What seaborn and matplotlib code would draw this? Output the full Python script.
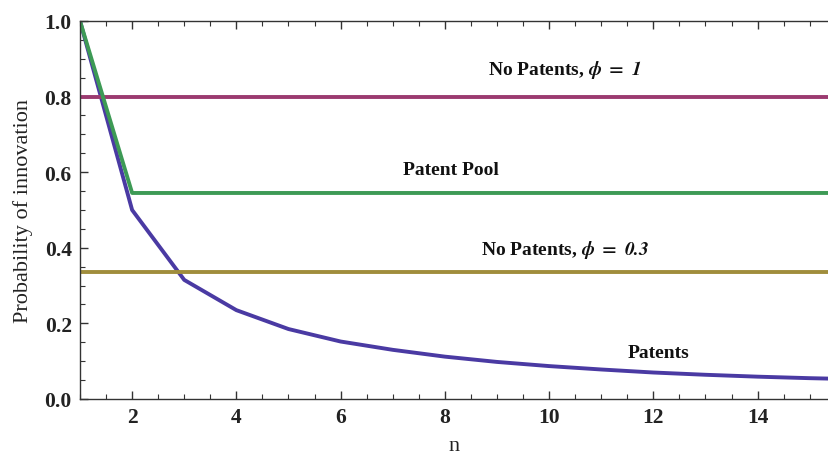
import numpy as np
import pandas as pd
import matplotlib
matplotlib.use("Agg")
import matplotlib.pyplot as plt
from matplotlib.ticker import MultipleLocator
import seaborn as sns

# Number of firms n
n_values = [1, 2, 3, 4, 5, 6, 7, 8, 9, 10, 11, 12, 13, 14, 15, 16]
# Probability of innovation under each regime
patents = [1.0, 0.5, 0.315, 0.235, 0.185, 0.152, 0.130, 0.112, 0.098,
           0.087, 0.078, 0.070, 0.064, 0.059, 0.055, 0.052]
patent_pool = [1.0, 0.545, 0.545, 0.545, 0.545, 0.545, 0.545, 0.545, 0.545,
               0.545, 0.545, 0.545, 0.545, 0.545, 0.545, 0.545]
no_patents_phi1 = [0.8] * 16
no_patents_phi03 = [0.335] * 16

series_names = ["Patents", "No Patents, phi=1", "Patent Pool", "No Patents, phi=0.3"]
series_values = [patents, no_patents_phi1, patent_pool, no_patents_phi03]
colors = ["#4a3aa3", "#9b3a70", "#3d9a55", "#a08d3c"]

df = pd.concat(
    [pd.DataFrame({"n": n_values, "p": v, "series": s}) for s, v in zip(series_names, series_values)],
    ignore_index=True,
)

sns.set_theme(style="white")
plt.rcParams["font.family"] = ["Liberation Serif", "DejaVu Serif"]
plt.rcParams["mathtext.fontset"] = "stix"

fig = plt.figure(figsize=(8.29, 4.64), dpi=100)
ax = fig.add_axes([0.0965, 0.138, 0.9035, 0.8146])

sns.lineplot(data=df, x="n", y="p", hue="series", palette=dict(zip(series_names, colors)),
             hue_order=series_names, linewidth=2.8, legend=False, ax=ax)

ax.set_xlim(1, 15.37)
ax.set_ylim(0, 1.0)
ax.xaxis.set_major_locator(MultipleLocator(2))
ax.xaxis.set_minor_locator(MultipleLocator(0.5))
ax.yaxis.set_major_locator(MultipleLocator(0.2))
ax.yaxis.set_minor_locator(MultipleLocator(0.05))
ax.set_xticks([2, 4, 6, 8, 10, 12, 14])
ax.yaxis.set_major_formatter(matplotlib.ticker.FormatStrFormatter("%.1f"))

for side in ["left", "bottom", "top"]:
    ax.spines[side].set_visible(True)
    ax.spines[side].set_color("#333333")
    ax.spines[side].set_linewidth(1.0)
ax.spines["right"].set_visible(False)

ax.tick_params(which="major", direction="in", length=6, width=1.0, color="#333333",
               top=True, left=True, bottom=True, labelsize=15.5, pad=6)
ax.tick_params(which="minor", direction="in", length=3.5, width=0.8, color="#333333",
               top=True, left=True, bottom=True)
for lbl in ax.get_xticklabels() + ax.get_yticklabels():
    lbl.set_fontweight("bold")
    lbl.set_color("#222222")

ax.set_xlabel("n", fontsize=16, color="#222222", labelpad=6)
ax.set_ylabel("Probability of innovation", fontsize=16, color="#222222", labelpad=8)

text_kw = dict(ha="center", va="center", fontsize=14, fontweight="bold", color="#111111")
ax.text(10.3, 0.872, r"No Patents, $\boldsymbol{\phi}\ \mathbf{=}\ \mathbfit{1}$", **text_kw)
ax.text(8.12, 0.608, "Patent Pool", **text_kw)
ax.text(10.3, 0.397, r"No Patents, $\boldsymbol{\phi}\ \mathbf{=}\ \mathbfit{0.3}$", **text_kw)
ax.text(12.1, 0.122, "Patents", **text_kw)

fig.savefig("out.png", dpi=100)
